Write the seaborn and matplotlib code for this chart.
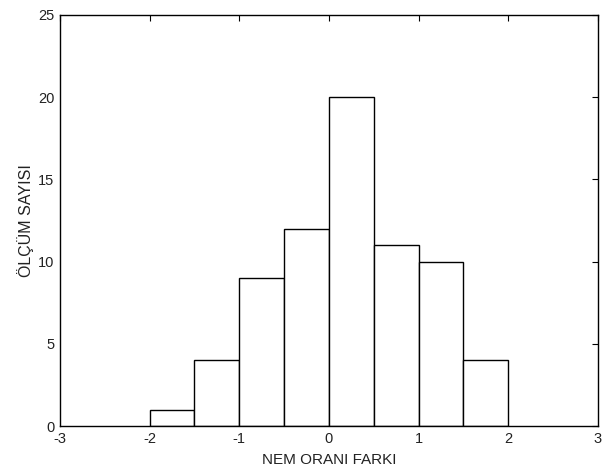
import matplotlib
matplotlib.use("Agg")
import matplotlib.pyplot as plt
import numpy as np
import seaborn as sns

# histogram bins (NEM ORANI FARKI) and counts (ÖLÇÜM SAYISI)
bin_edges = [-2.0, -1.5, -1.0, -0.5, 0.0, 0.5, 1.0, 1.5, 2.0]
counts = [1, 4, 9, 12, 20, 11, 10, 4]
x_ticks = [-3, -2, -1, 0, 1, 2, 3]
y_ticks = [0, 5, 10, 15, 20, 25]

sns.set_style("white")
plt.rcParams["font.family"] = ["Liberation Sans", "DejaVu Sans"]
plt.rcParams["axes.unicode_minus"] = False

centers = (np.array(bin_edges[:-1]) + np.array(bin_edges[1:])) / 2

fig = plt.figure(figsize=(6.07, 4.68), dpi=100)
ax = fig.add_axes([0.0988, 0.0897, 0.8862, 0.8783])
sns.histplot(
    x=centers,
    weights=counts,
    bins=bin_edges,
    color="white",
    edgecolor="black",
    linewidth=1.0,
    alpha=1.0,
    ax=ax,
)
ax.set_xlim(-3, 3)
ax.set_ylim(0, 25)
ax.set_xticks(x_ticks)
ax.set_yticks(y_ticks)
ax.tick_params(direction="in", top=True, right=True, length=4, width=0.8,
               labelsize=10.5, color="black", labelcolor="#222222", pad=4)
for s in ax.spines.values():
    s.set_visible(True)
    s.set_color("black")
    s.set_linewidth(1.0)
ax.set_xlabel("NEM ORANI FARKI", fontsize=11, labelpad=5, color="#222222")
ax.set_ylabel("ÖLÇÜM SAYISI", fontsize=11.5, labelpad=3, color="#222222")

fig.savefig("out.png", dpi=100)
